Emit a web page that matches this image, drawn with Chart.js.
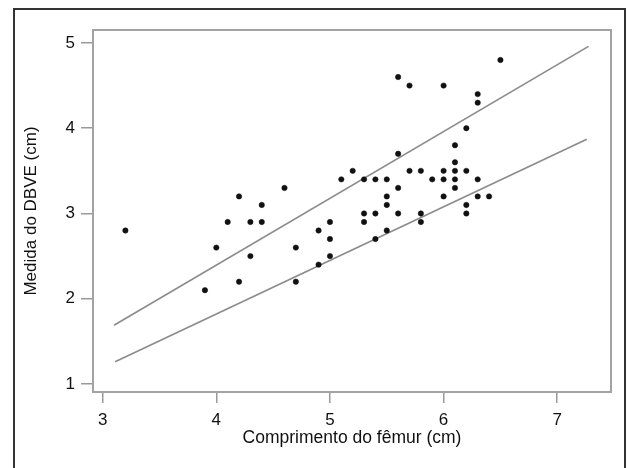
<!DOCTYPE html>
<html>
<head>
<meta charset="utf-8">
<script src="https://cdn.jsdelivr.net/npm/chart.js@4.4.1/dist/chart.umd.min.js"></script>
<style>
  html, body { margin: 0; padding: 0; background: #fff; }
  canvas { display: block; }
</style>
</head>
<body>
<canvas id="chart" width="628" height="468"></canvas>
<script>
// femur length (cm) and DBVE measure (cm), one entry per patient
const femur = [
    3.2, 3.9, 4.0, 4.1, 4.2, 4.2, 4.3, 4.3, 4.4, 4.4,
    4.6, 4.7, 4.7, 4.9, 4.9, 5.0, 5.0, 5.0, 5.1, 5.2,
    5.3, 5.3, 5.3, 5.4, 5.4, 5.4, 5.5, 5.5, 5.5, 5.5,
    5.6, 5.6, 5.6, 5.6, 5.7, 5.7, 5.8, 5.8, 5.8, 5.9,
    6.0, 6.0, 6.0, 6.0, 6.1, 6.1, 6.1, 6.1, 6.1, 6.2,
    6.2, 6.2, 6.2, 6.3, 6.3, 6.3, 6.3, 6.4, 6.5
];
const dbve = [
    2.8, 2.1, 2.6, 2.9, 3.2, 2.2, 2.5, 2.9, 3.1, 2.9,
    3.3, 2.6, 2.2, 2.8, 2.4, 2.9, 2.7, 2.5, 3.4, 3.5,
    3.4, 3.0, 2.9, 3.4, 3.0, 2.7, 3.4, 3.2, 3.1, 2.8,
    4.6, 3.7, 3.3, 3.0, 4.5, 3.5, 3.5, 3.0, 2.9, 3.4,
    4.5, 3.5, 3.4, 3.2, 3.8, 3.6, 3.5, 3.4, 3.3, 4.0,
    3.5, 3.1, 3.0, 4.4, 4.3, 3.4, 3.2, 3.2, 4.8
];

// reference lines (end points)
const upperX = [3.10, 7.275];
const upperY = [1.69, 4.96];
const lowerX = [3.11, 7.26];
const lowerY = [1.26, 3.87];

const xTicks = [3, 4, 5, 6, 7];
const yTicks = [1, 2, 3, 4, 5];

const toPoints = (xs, ys) => xs.map((x, i) => ({ x: x, y: ys[i] }));

const fontFamily = "'Liberation Sans', Arial, sans-serif";

// plot box and outer frame
const framePlugin = {
    id: "frame",
    beforeDatasetsDraw(chart) {
        const ctx = chart.ctx;
        const a = chart.chartArea;
        ctx.save();
        ctx.strokeStyle = "#a3a3a3";
        ctx.lineWidth = 2;
        ctx.strokeRect(a.left, a.top, a.right - a.left, a.bottom - a.top);
        ctx.restore();
    },
    afterDraw(chart) {
        const ctx = chart.ctx;
        ctx.save();
        ctx.strokeStyle = "#333";
        ctx.lineWidth = 2;
        ctx.strokeRect(14, 9, 611, 480);
        ctx.restore();
    }
};

new Chart(document.getElementById("chart"), {
    type: "scatter",
    data: {
        datasets: [
            {
                data: toPoints(femur, dbve),
                pointStyle: "circle",
                pointRadius: 2.7,
                pointBackgroundColor: "#111",
                pointBorderColor: "#111",
                pointBorderWidth: 0.5
            },
            {
                data: toPoints(upperX, upperY),
                showLine: true,
                pointRadius: 0,
                borderColor: "#8c8c8c",
                borderWidth: 1.7
            },
            {
                data: toPoints(lowerX, lowerY),
                showLine: true,
                pointRadius: 0,
                borderColor: "#8c8c8c",
                borderWidth: 1.7
            }
        ]
    },
    options: {
        responsive: false,
        animation: false,
        layout: {
            padding: { top: 30, right: 17, left: 0, bottom: 0 }
        },
        plugins: {
            legend: { display: false },
            tooltip: { enabled: false }
        },
        scales: {
            x: {
                type: "linear",
                min: 2.915,
                max: 7.473,
                afterBuildTicks: s => { s.ticks = xTicks.map(v => ({ value: v })); },
                afterFit: s => { s.height = 76; },
                border: { display: false },
                grid: {
                    drawOnChartArea: false,
                    tickLength: 11,
                    tickColor: "#9a9a9a",
                    lineWidth: 1.5
                },
                ticks: {
                    padding: 7,
                    color: "#111",
                    font: { family: fontFamily, size: 17 }
                },
                title: {
                    display: true,
                    text: "Comprimento do fêmur (cm)",
                    color: "#111",
                    padding: { top: 0, bottom: 19.5 },
                    font: { family: fontFamily, size: 17.5 }
                }
            },
            y: {
                type: "linear",
                min: 0.906,
                max: 5.152,
                afterBuildTicks: s => { s.ticks = yTicks.map(v => ({ value: v })); },
                afterFit: s => { s.width = 93; },
                border: { display: false },
                grid: {
                    drawOnChartArea: false,
                    tickLength: 12,
                    tickColor: "#9a9a9a",
                    lineWidth: 1.5
                },
                ticks: {
                    padding: 6,
                    color: "#111",
                    font: { family: fontFamily, size: 17 }
                },
                title: {
                    display: true,
                    text: "Medida do DBVE (cm)",
                    color: "#111",
                    padding: { top: 21.3, bottom: 0 },
                    font: { family: fontFamily, size: 17 }
                }
            }
        }
    },
    plugins: [framePlugin]
});
</script>
</body>
</html>
